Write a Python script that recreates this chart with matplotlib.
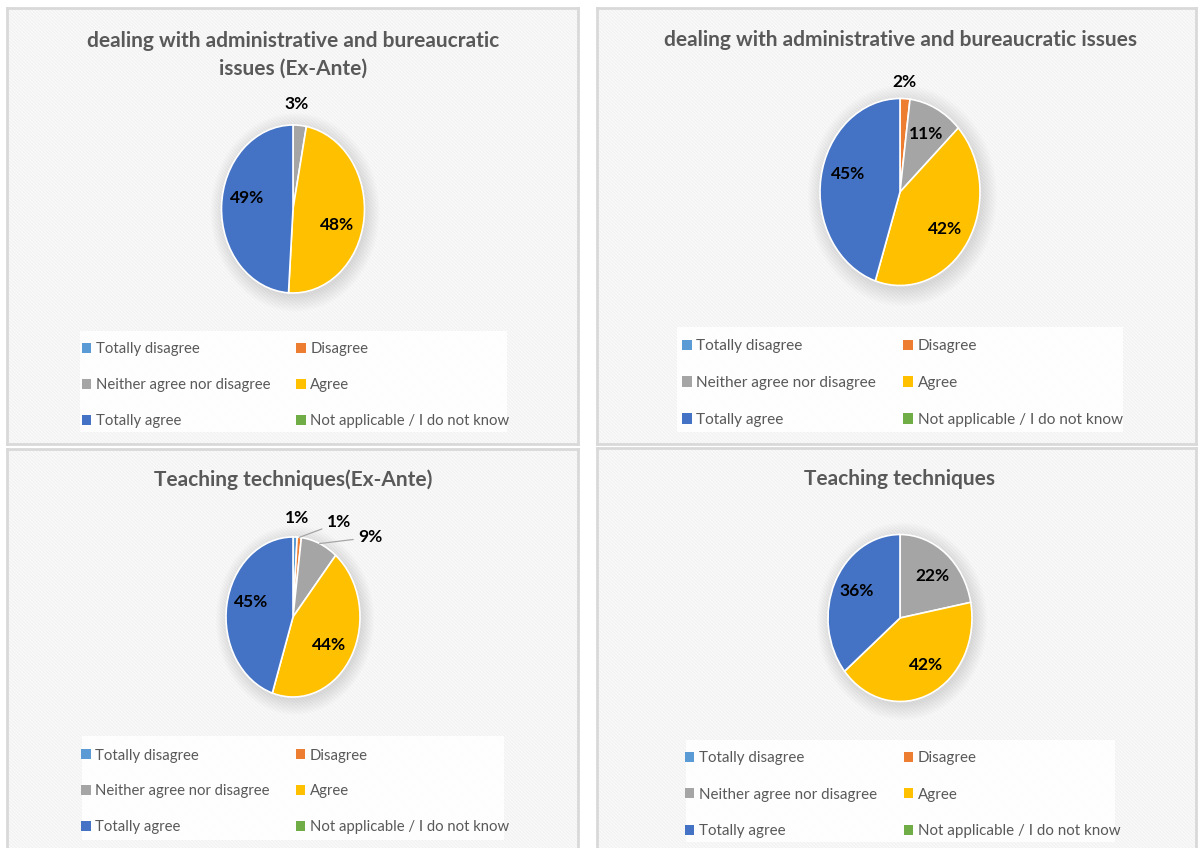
import matplotlib
matplotlib.use("Agg")
import matplotlib.pyplot as plt
from matplotlib.patches import Patch, Rectangle, Ellipse
import numpy as np

plt.rcParams['font.family'] = ['Lato', 'DejaVu Sans']
plt.rcParams['hatch.linewidth'] = 0.8

# Data
categories = ['Totally disagree', 'Disagree', 'Neither agree nor disagree',
              'Agree', 'Totally agree', 'Not applicable / I do not know']
colors = ['#5B9BD5', '#ED7D31', '#A5A5A5', '#FFC000', '#4472C4', '#70AD47']

admin_ex_ante = [0, 0, 3, 48, 49, 0]
admin_now = [0, 2, 11, 42, 45, 0]
teaching_ex_ante = [1, 1, 9, 44, 45, 0]
teaching_now = [0, 0, 22, 42, 36, 0]

titles = ['dealing with administrative and bureaucratic\nissues (Ex-Ante)',
          'dealing with administrative and bureaucratic issues',
          'Teaching techniques(Ex-Ante)',
          'Teaching techniques']
series = [admin_ex_ante, admin_now, teaching_ex_ante, teaching_now]

# Layout (pixels in the 1199x848 canvas)
W, H = 1199, 848
frames = [(7, 8, 578, 444), (597, 8, 1196, 444), (7, 449, 578, 850), (597, 448, 1196, 850)]
pies = [(293, 209, 143, 168), (900, 192, 160, 187), (293, 617, 134, 160), (900, 618, 144, 167)]
title_pos = [(293, 55), (900, 40), (293, 480), (900, 479)]
legend_boxes = [(80, 331, 507, 432), (677, 327, 1123, 432), (82, 736, 504, 840), (686, 740, 1115, 842)]
legend_size = [10.7, 11.1, 10.7, 10.9]

# label placement: radius and angle shift from wedge middle (nonzero slices only)
label_r = [[1.25, 0.65, 0.66], [1.18, 0.70, 0.69, 0.68],
           [1.24, 1.37, 1.53, 0.64, 0.66], [0.67, 0.67, 0.68]]
label_shift = [[3, -10, -10], [1, -1, -3, -7],
               [-1, -25, -26, -4, -8], [-2, 8, -3]]
leader = [[False] * 3, [False] * 4,
          [False, True, True, False, False], [False] * 3]


def box(x0, y0, x1, y1):
    return [x0 / W, 1 - y1 / H, (x1 - x0) / W, (y1 - y0) / H]


fig = plt.figure(figsize=(W / 100, H / 100), dpi=100)

for i in range(4):
    # panel background
    pax = fig.add_axes(box(*frames[i]))
    pax.set_facecolor('#F1F1F1')
    pax.add_patch(Rectangle((0, 0), 1, 1, transform=pax.transAxes, facecolor='none',
                            edgecolor='#FBFBFB', hatch='\\' * 10, linewidth=0))
    pax.set_xticks([])
    pax.set_yticks([])
    for s in pax.spines.values():
        s.set_color('#D9D9D9')
        s.set_linewidth(2)

    tx, ty = title_pos[i]
    fig.text(tx / W, 1 - ty / H, titles[i], ha='center', va='center', fontsize=15,
             fontweight='bold', color='#595959', linespacing=1.45)

    # pie
    cx, cy, pw, ph = pies[i]
    ax = fig.add_axes(box(cx - pw / 2, cy - ph / 2, cx + pw / 2, cy + ph / 2))
    vals = [v for v in series[i] if v > 0]
    cols = [c for v, c in zip(series[i], colors) if v > 0]
    for k in range(10):
        ax.add_patch(Ellipse((0.03, -0.04), 2 + 0.04 * k, 2 + 0.04 * k, color='#808080',
                             alpha=0.025, linewidth=0, clip_on=False, zorder=0))
    wedges, _ = ax.pie(vals, colors=cols, startangle=90, counterclock=False,
                       wedgeprops=dict(edgecolor='white', linewidth=1.2))
    for w in wedges:
        w.set_zorder(2)
    ax.set_aspect('auto')
    ax.set_xlim(-1, 1)
    ax.set_ylim(-1, 1)
    ax.axis('off')

    for j, (w, v) in enumerate(zip(wedges, vals)):
        mid = np.deg2rad((w.theta1 + w.theta2) / 2)
        ang = mid + np.deg2rad(label_shift[i][j])
        r = label_r[i][j]
        pos = (r * np.cos(ang), r * np.sin(ang))
        if leader[i][j]:
            ax.annotate(f'{v}%', xy=(np.cos(mid), np.sin(mid)), xytext=pos,
                        ha='center', va='center', fontsize=12.5, fontweight='bold',
                        color='black', zorder=5, annotation_clip=False,
                        arrowprops=dict(arrowstyle='-', color='#A6A6A6', lw=0.9,
                                        shrinkA=2, shrinkB=0))
        else:
            ax.text(pos[0], pos[1], f'{v}%', ha='center', va='center', fontsize=12.5,
                    fontweight='bold', color='black', zorder=5, clip_on=False)

    # legend (row-wise order like Excel)
    handles = [Patch(facecolor=c, edgecolor='none', label=l) for c, l in zip(colors, categories)]
    order = [0, 2, 4, 1, 3, 5]
    lx0, ly0, lx1, ly1 = legend_boxes[i]
    lax = fig.add_axes(box(lx0, ly0, lx1, ly1))
    lax.axis('off')
    lax.add_patch(Rectangle((0, 0), 1, 1, transform=lax.transAxes, facecolor='white',
                            edgecolor='none', alpha=0.9))
    leg = lax.legend([handles[o] for o in order], [categories[o] for o in order],
                     ncol=2, loc='center', bbox_to_anchor=(0.505, 0.5 - 3.5 / (ly1 - ly0)),
                     frameon=False, fontsize=legend_size[i],
                     handlelength=0.65, handleheight=0.65, handletextpad=0.3,
                     columnspacing=1.75, labelspacing=1.48)
    for t in leg.get_texts():
        t.set_color('#595959')

fig.savefig('out.png', dpi=100)
